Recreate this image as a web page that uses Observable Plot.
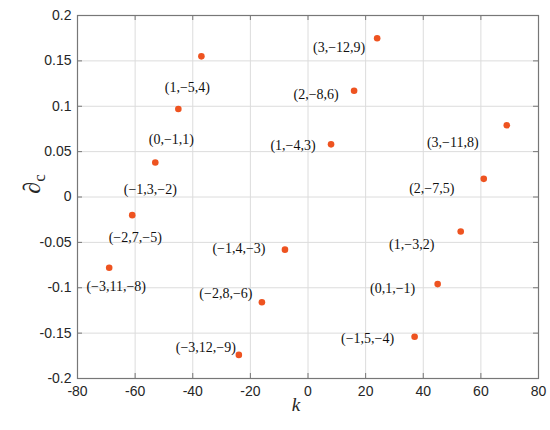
<!DOCTYPE html>
<html>
<head>
<meta charset="utf-8">
<script src="https://cdn.jsdelivr.net/npm/d3@7"></script>
<script src="https://cdn.jsdelivr.net/npm/@observablehq/plot@0.6"></script>
<style>
  html, body { margin: 0; padding: 0; background: #fff; }
</style>
</head>
<body>
<div id="chart"></div>
<script>
// Data
const kValues = [-37, -45, -53, -61, -69, 24, 16, 8, -8, -16, -24, 69, 61, 53, 45, 37];
const dcValues = [0.155, 0.097, 0.038, -0.020, -0.078, 0.175, 0.117, 0.058, -0.058, -0.116, -0.174, 0.079, 0.020, -0.038, -0.096, -0.154];
const pointLabels = ["(1,−5,4)", "(0,−1,1)", "(−1,3,−2)", "(−2,7,−5)", "(−3,11,−8)",
  "(3,−12,9)", "(2,−8,6)", "(1,−4,3)", "(−1,4,−3)", "(−2,8,−6)", "(−3,12,−9)",
  "(3,−11,8)", "(2,−7,5)", "(1,−3,2)", "(0,1,−1)", "(−1,5,−4)"];
const xTicks = [-80, -60, -40, -20, 0, 20, 40, 60, 80];
const yTicks = [-0.2, -0.15, -0.1, -0.05, 0, 0.05, 0.1, 0.15, 0.2];

// Label placement (style, pixel offsets from each point)
const labelOffsets = [[-14, 31], [-7, 31], [-5, 27], [3, 22], [7, 19],
  [-38, 9], [-38, 4], [-38, 1], [-46, -1], [-36, -9], [-33, -7],
  [-54, 17], [-52, 10], [-49, 13], [-45, 4], [-47, 2]];

const data = kValues.map((k, i) => ({k, dc: dcValues[i], label: pointLabels[i], dx: labelOffsets[i][0], dy: labelOffsets[i][1]}));

const dotColor = "#EE5320";
const serif = "'Liberation Serif', 'Times New Roman', serif";
const sans = "'Liberation Sans', Arial, sans-serif";

const W = 550, H = 430, mL = 77, mR = 12, mT = 15, mB = 52;
const plotW = W - mL - mR, plotH = H - mT - mB, tickLen = 5;

const labelMarks = data.map(d => Plot.text([d], {
  x: "k", y: "dc", text: "label", dx: d.dx, dy: d.dy,
  fontFamily: serif, fontSize: 14, fill: "#111"
}));

const chart = Plot.plot({
  width: W,
  height: H,
  marginLeft: mL,
  marginRight: mR,
  marginTop: mT,
  marginBottom: mB,
  style: {fontFamily: sans, fontSize: "14px", color: "#262626", background: "#fff"},
  x: {domain: [-80, 80]},
  y: {domain: [-0.2, 0.2]},
  marks: [
    Plot.gridX(xTicks, {stroke: "#dcdcdc", strokeOpacity: 1}),
    Plot.gridY(yTicks, {stroke: "#dcdcdc", strokeOpacity: 1}),
    // inward ticks on all four sides
    Plot.tickX(xTicks, {x: d => d, insetTop: plotH - tickLen, stroke: "#777"}),
    Plot.tickX(xTicks, {x: d => d, insetBottom: plotH - tickLen, stroke: "#777"}),
    Plot.tickY(yTicks, {y: d => d, insetRight: plotW - tickLen, stroke: "#777"}),
    Plot.tickY(yTicks, {y: d => d, insetLeft: plotW - tickLen, stroke: "#777"}),
    Plot.frame({stroke: "#777", strokeWidth: 1.2}),
    Plot.axisX(xTicks, {anchor: "bottom", tickSize: 0, tickPadding: 8, label: null, tickFormat: d => String(d).replace("−", "-"), fill: "#262626"}),
    Plot.axisY(yTicks, {anchor: "left", tickSize: 0, tickPadding: 6, label: null, tickFormat: d => String(d).replace("−", "-"), fill: "#262626"}),
    Plot.dot(data, {x: "k", y: "dc", r: 3.3, fill: dotColor, stroke: "none"}),
    ...labelMarks
  ]
});

// Axis titles (math style) added as SVG text
const svg = d3.select(chart);
const ylab = svg.append("text")
  .attr("transform", "translate(40,184) rotate(-90)")
  .attr("text-anchor", "middle")
  .attr("font-family", serif)
  .attr("font-size", 24)
  .attr("fill", "#262626");
ylab.append("tspan").text("∂");
ylab.append("tspan").attr("font-size", 17).attr("dy", 5).text("c");

svg.append("text")
  .attr("x", 296).attr("y", 411)
  .attr("text-anchor", "middle")
  .attr("font-family", serif)
  .attr("font-style", "italic")
  .attr("font-size", 19)
  .attr("fill", "#262626")
  .text("k");

document.getElementById("chart").appendChild(chart);
</script>
</body>
</html>
